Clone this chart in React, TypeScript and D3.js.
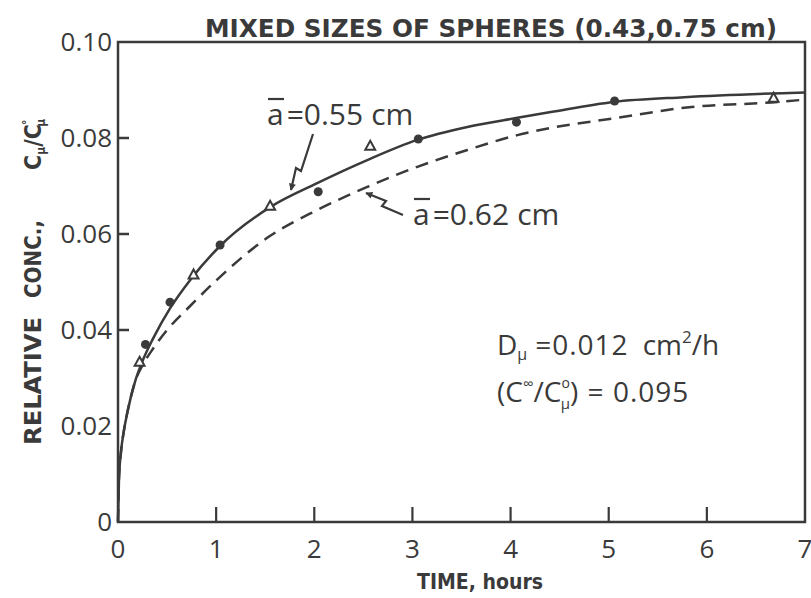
import React from "react";
import * as d3 from "d3";

const xTicks = [0, 1, 2, 3, 4, 5, 6, 7];
const yTicks = [0, 0.02, 0.04, 0.06, 0.08, 0.1];
const yTickLabels = ["0", "0.02", "0.04", "0.06", "0.08", "0.10"];

// solid curve, a = 0.55 cm
const solidT = [0, 0.01, 0.03, 0.06, 0.092, 0.173, 0.255, 0.357, 0.53, 0.75, 1.04, 1.55, 2.03, 2.54, 3.05, 3.56, 4.07, 4.41, 5.05, 5.77, 7.0];
const solidC = [0, 0.009, 0.0145, 0.019, 0.0225, 0.0292, 0.0338, 0.0382, 0.0445, 0.0508, 0.0575, 0.0656, 0.0706, 0.0754, 0.0796, 0.0823, 0.0842, 0.0854, 0.0875, 0.0885, 0.0895];

// dashed curve, a = 0.62 cm
const dashT = [0, 0.01, 0.03, 0.06, 0.092, 0.173, 0.255, 0.36, 0.5, 0.735, 1.01, 1.52, 2.03, 2.54, 3.05, 3.56, 4.07, 4.41, 5.09, 5.77, 6.72, 7.0];
const dashC = [0, 0.009, 0.0145, 0.019, 0.0225, 0.0292, 0.0328, 0.0362, 0.04, 0.045, 0.0505, 0.0592, 0.065, 0.0698, 0.074, 0.0775, 0.0806, 0.0821, 0.0842, 0.0863, 0.0875, 0.088];

// measured points
const circleT = [0.28, 0.53, 1.04, 2.04, 3.06, 4.06, 5.06];
const circleC = [0.037, 0.0458, 0.0577, 0.0688, 0.0798, 0.0833, 0.0877];
const triT = [0.22, 0.77, 1.55, 2.57, 6.68];
const triC = [0.0333, 0.0515, 0.0658, 0.0783, 0.0883];

const INK = "#3a3a3a";

export default function App() {
  const W = 811, H = 598;
  const x = d3.scaleLinear().domain([0, 7]).range([118, 805]);
  const y = d3.scaleLinear().domain([0, 0.1]).range([522, 42]);

  const line = d3
    .line<[number, number]>()
    .x((d) => x(d[0]))
    .y((d) => y(d[1]))
    .curve(d3.curveMonotoneX);

  const solid = line(solidT.map((t, i) => [t, solidC[i]]));
  const dashed = line(dashT.map((t, i) => [t, dashC[i]]));

  const tri = (cx: number, cy: number, s: number) =>
    `M${cx},${cy - s * 0.6} L${cx + s * 0.55},${cy + s * 0.4} L${cx - s * 0.55},${cy + s * 0.4} Z`;

  const numFont = "'Open Sans', 'DejaVu Sans', sans-serif";
  const boldFont = "'DejaVu Sans Condensed', 'DejaVu Sans', sans-serif";

  return (
    <svg width={W} height={H} style={{ position: "absolute", left: 0, top: 0, background: "#fff" }}>
      <defs>
        <marker id="ah" viewBox="0 0 10 10" refX="9" refY="5" markerWidth="8" markerHeight="7" orient="auto" markerUnits="userSpaceOnUse">
          <path d="M0,0 L10,5 L0,10 Z" fill={INK} />
        </marker>
      </defs>

      {/* title */}
      <text x={205} y={37} fontFamily={boldFont} fontStretch="condensed" fontWeight="bold" fontSize={25} fill={INK} textLength={572} lengthAdjust="spacingAndGlyphs">
        MIXED SIZES OF SPHERES  (0.43,0.75 cm)
      </text>

      {/* frame */}
      <rect x={x(0)} y={y(0.1)} width={x(7) - x(0)} height={y(0) - y(0.1)} fill="none" stroke={INK} strokeWidth={2.5} />

      {/* y ticks */}
      {yTicks.map((v, i) => (
        <g key={"yt" + i}>
          {i > 1 && i < yTicks.length - 1 && (
            <line x1={x(0)} x2={x(0) + 11} y1={y(v)} y2={y(v)} stroke={INK} strokeWidth={2.5} />
          )}
          <text x={112} y={y(v)} dy="0.36em" textAnchor="end" fontFamily={numFont} fontSize={26} fill={INK}>
            {yTickLabels[i]}
          </text>
        </g>
      ))}

      {/* x ticks */}
      {xTicks.map((v, i) => (
        <g key={"xt" + i}>
          {i > 0 && i < xTicks.length - 1 && (
            <line x1={x(v)} x2={x(v)} y1={y(0)} y2={y(0) - 15} stroke={INK} strokeWidth={2.2} />
          )}
          <text x={x(v)} y={558} textAnchor="middle" fontFamily={numFont} fontSize={26} fill={INK}>
            {v}
          </text>
        </g>
      ))}

      {/* axis labels */}
      <text x={417} y={589} fontFamily={boldFont} fontStretch="condensed" fontWeight="bold" fontSize={22} fill={INK} textLength={126} lengthAdjust="spacingAndGlyphs">
        TIME, hours
      </text>
      <g transform="translate(41,0) rotate(-90)">
        <text x={-445} y={0} fontFamily={boldFont} fontStretch="condensed" fontWeight="bold" fontSize={23} fill={INK} textLength={128} lengthAdjust="spacingAndGlyphs">
          RELATIVE
        </text>
        <text x={-298} y={0} fontFamily={boldFont} fontStretch="condensed" fontWeight="bold" fontSize={23} fill={INK} textLength={78} lengthAdjust="spacingAndGlyphs">
          CONC.,
        </text>
        <text x={-170} y={0} fontFamily={boldFont} fontStretch="condensed" fontWeight="bold" fontSize={23} fill={INK}>
          C<tspan fontSize={12} dy={4}>μ</tspan>
          <tspan dy={-4}>/C</tspan>
          <tspan fontSize={12} dy={-10} dx={-1}>°</tspan>
          <tspan fontSize={12} dy={14} dx={-7}>μ</tspan>
        </text>
      </g>

      {/* curves */}
      <path d={dashed ?? ""} fill="none" stroke={INK} strokeWidth={2.5} strokeDasharray="13 8" />
      <path d={solid ?? ""} fill="none" stroke={INK} strokeWidth={2.5} />

      {/* points */}
      {circleT.map((t, i) => (
        <circle key={"c" + i} cx={x(t)} cy={y(circleC[i])} r={4.5} fill={INK} />
      ))}
      {triT.map((t, i) => (
        <path key={"t" + i} d={tri(x(t), y(triC[i]), 9)} fill="#fff" stroke={INK} strokeWidth={2} />
      ))}

      {/* annotations */}
      <text x={267} y={125} fontFamily={numFont} fontSize={30} fill={INK}>
        a<tspan dx={3}>=0.55</tspan><tspan dx={8}>cm</tspan>
      </text>
      <line x1={268} x2={284} y1={99} y2={99} stroke={INK} strokeWidth={2.2} />
      <path d="M313,134 L301,171 L296,168 L291,190" fill="none" stroke={INK} strokeWidth={2.2} markerEnd="url(#ah)" />

      <text x={413} y={225} fontFamily={numFont} fontSize={30} fill={INK}>
        a<tspan dx={3}>=0.62</tspan><tspan dx={8}>cm</tspan>
      </text>
      <line x1={414} x2={430} y1={199} y2={199} stroke={INK} strokeWidth={2.2} />
      <path d="M403,215 L382,206 L386,201 L366,193" fill="none" stroke={INK} strokeWidth={2.2} markerEnd="url(#ah)" />

      <text x={497} y={355} fontFamily={numFont} fontSize={28} fill={INK}>
        D<tspan fontSize={16} dy={5}>μ</tspan>
        <tspan dy={-5} dx={8} letterSpacing={1}>=0.012</tspan>
        <tspan dx={14}>cm</tspan>
        <tspan fontSize={17} dy={-12}>2</tspan>
        <tspan dy={12}>/h</tspan>
      </text>
      <text x={497} y={402} fontFamily={numFont} fontSize={28} fill={INK}>
        (C<tspan fontSize={15} dy={-13}>∞</tspan>
        <tspan dy={13}>/C</tspan>
        <tspan fontSize={14} dy={-14}>o</tspan>
        <tspan fontSize={15} dy={21} dx={-9}>μ</tspan>
        <tspan dy={-7} letterSpacing={1}>) = 0.095</tspan>
      </text>
    </svg>
  );
}
